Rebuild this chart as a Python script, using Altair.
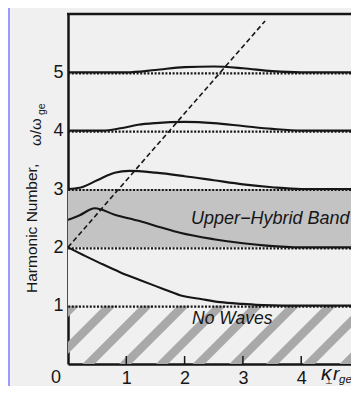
import altair as alt
import pandas as pd
import numpy as np

# ---- data ----
harmonics = [1, 2, 3, 4, 5]
xticks = [1, 2, 3, 4]

h5_x = [0, 1.0, 1.5, 2.0, 2.5, 3.0, 3.5, 4.0, 4.86]
h5_y = [5.0, 5.0, 5.04, 5.09, 5.10, 5.07, 5.02, 5.0, 5.0]
h4_x = [0, 0.6, 0.9, 1.2, 1.5, 2.0, 2.5, 3.0, 3.5, 4.0, 4.86]
h4_y = [4.0, 4.0, 4.04, 4.1, 4.13, 4.15, 4.13, 4.08, 4.03, 4.0, 4.0]
h3_x = [0, 0.2, 0.5, 0.8, 1.05, 1.5, 2.0, 2.5, 3.0, 3.5, 4.0, 4.86]
h3_y = [3.0, 3.02, 3.15, 3.28, 3.31, 3.28, 3.22, 3.15, 3.08, 3.03, 3.0, 3.0]
uh_x = [0, 0.2, 0.46, 0.8, 1.23, 1.6, 1.92, 2.5, 3.0, 3.4, 4.0, 4.86]
uh_y = [2.47, 2.55, 2.67, 2.56, 2.45, 2.34, 2.25, 2.14, 2.07, 2.03, 2.0, 2.0]
h2_x = [0, 0.3, 0.55, 0.9, 1.23, 1.6, 1.92, 2.3, 2.61, 3.0, 3.35, 4.0, 4.86]
h2_y = [2.0, 1.85, 1.73, 1.57, 1.44, 1.3, 1.18, 1.11, 1.06, 1.03, 1.01, 1.0, 1.0]
dash_x = [0, 3.38]
dash_y = [2.0, 5.88]

band_lo = [2]
band_hi = [3]
nowave_lo = [0]
nowave_hi = [1]

XMAX = 4.854
W, H = 283, 350
INK = "#161616"

curves = pd.concat([
    pd.DataFrame({"x": h5_x, "y": h5_y, "s": "h5"}),
    pd.DataFrame({"x": h4_x, "y": h4_y, "s": "h4"}),
    pd.DataFrame({"x": h3_x, "y": h3_y, "s": "h3"}),
    pd.DataFrame({"x": uh_x, "y": uh_y, "s": "uh"}),
    pd.DataFrame({"x": h2_x, "y": h2_y, "s": "h2"}),
])

xs = alt.Scale(domain=[0, XMAX], nice=False, zero=False)
ys = alt.Scale(domain=[0, 6], nice=False)

xaxis = alt.Axis(values=xticks, title=None, ticks=False, grid=False, domain=True, format="d",
                 domainWidth=2.5, domainColor=INK, labelFontSize=18, labelPadding=5,
                 labelColor=INK, labelFont="Liberation Sans")
yaxis = alt.Axis(values=harmonics, title=None, ticks=False, grid=False, domain=True, format="d",
                 domainWidth=2.5, domainColor=INK, labelFontSize=18, labelPadding=5,
                 labelColor=INK, labelFont="Liberation Sans")

# hatch stripes for "No Waves" region
starts = np.arange(-0.91, 5.0, 0.63)
stripes = pd.DataFrame({"x0": starts - 0.2, "y0": -0.2, "x1": starts + 1.3, "y1": 1.3})

stripe_layer = alt.Chart(stripes).mark_rule(clip=True, strokeWidth=8.5, color="#a9a9a9",
                                            strokeCap="butt").encode(
    x=alt.X("x0:Q", scale=xs, axis=xaxis), y=alt.Y("y0:Q", scale=ys, axis=yaxis),
    x2="x1:Q", y2="y1:Q")

cover = alt.Chart(pd.DataFrame({"a": nowave_hi, "b": band_lo})).mark_rect(
    color="#f0f0f0").encode(y="a:Q", y2="b:Q", x=alt.value(0), x2=alt.value(W))

band = alt.Chart(pd.DataFrame({"a": band_lo, "b": band_hi})).mark_rect(
    color="#c3c3c3").encode(y="a:Q", y2="b:Q", x=alt.value(0), x2=alt.value(W))

dotted = alt.Chart(pd.DataFrame({"h": harmonics})).mark_rule(
    strokeDash=[2, 1.6], strokeWidth=2.2, color=INK, yOffset=1).encode(y="h:Q")

lines = alt.Chart(curves).mark_line(color=INK, strokeWidth=2.1,
                                    interpolate="monotone", clip=True).encode(
    x="x:Q", y="y:Q", detail="s:N")

dashed = alt.Chart(pd.DataFrame({"x": dash_x, "y": dash_y})).mark_line(
    color=INK, strokeWidth=1.6, strokeDash=[5, 3]).encode(x="x:Q", y="y:Q")

top_frame = alt.Chart(pd.DataFrame({"k": [0]})).mark_rule(
    color=INK, strokeWidth=2.5).encode(x=alt.value(-1), x2=alt.value(W), y=alt.value(0))

inticks = alt.Chart(pd.DataFrame({"t": xticks})).mark_rule(
    color=INK, strokeWidth=1.5).encode(x="t:Q", y=alt.value(H), y2=alt.value(H - 8))

def txt(s, x, y, size, italic=False, angle=0, align="left", baseline="alphabetic"):
    kw = dict(text=s, fontSize=size, font="Liberation Sans", color=INK,
              align=align, baseline=baseline)
    if italic:
        kw["fontStyle"] = "italic"
    if angle:
        kw["angle"] = angle
    return alt.Chart(pd.DataFrame({"k": [0]})).mark_text(**kw).encode(
        x=alt.value(x), y=alt.value(y))

texts = [
    txt("Upper\u2212Hybrid Band", 123, 209.5, 18, italic=True),
    txt("No Waves", 124, 310, 17.5, italic=True),
    txt("0", -12, 369, 18, align="center"),
    txt("\u03ba", 253, 366, 21, italic=True),
    txt("\u22a5", 257, 370, 8.5),
    txt("r", 265, 366, 19, italic=True),
    txt("ge", 271, 369, 11.5, italic=True),
    txt("Harmonic Number,", -31, 279, 15.5, angle=270),
    txt("\u03c9/\u03c9", -27, 132, 15, angle=270),
    txt("ge", -23, 101, 10.5, angle=270),
]

lav = alt.Chart(pd.DataFrame({"k": [0]})).mark_rect(color="#9999ff").encode(
    x=alt.value(-60), x2=alt.value(-58), y=alt.value(-6), y2=alt.value(H + 22))

chart = alt.layer(stripe_layer, cover, band, dotted, lines, dashed, top_frame,
                  inticks, lav, *texts).properties(
    width=W, height=H,
    autosize=alt.AutoSizeParams(type="none"),
    padding={"left": 60, "top": 6, "right": 0, "bottom": 22},
).configure(background="#f0f0f0").configure_view(stroke=None)

chart.save("out.html", embed_options={"renderer": "svg", "actions": False})
